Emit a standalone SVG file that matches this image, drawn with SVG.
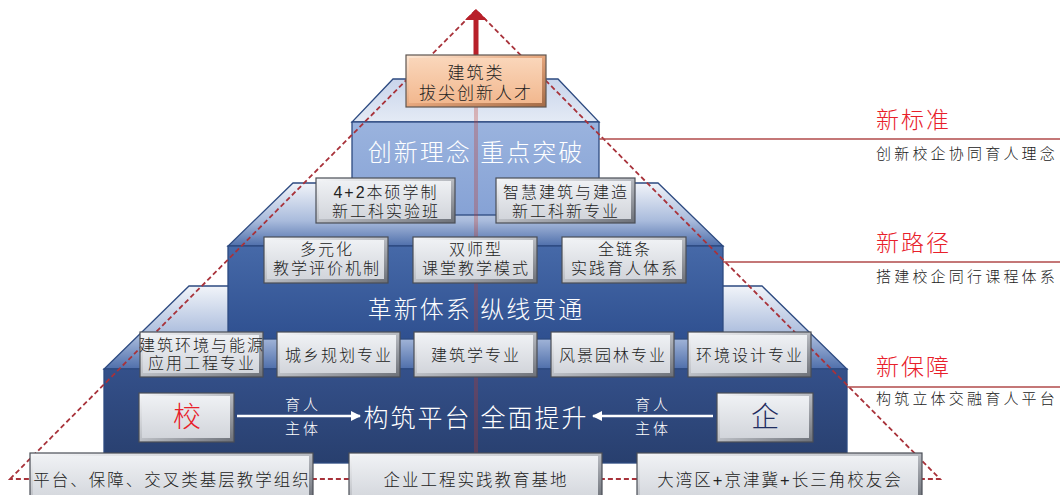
<svg xmlns="http://www.w3.org/2000/svg" width="1060" height="495" viewBox="0 0 1060 495">
<defs>
<style>
text{font-family:"Liberation Sans","Noto Sans CJK SC",sans-serif;font-weight:300}
.bt{font-size:16px;letter-spacing:2px;fill:#222;text-anchor:middle}
.bb{font-size:16.5px;letter-spacing:2px;fill:#222;text-anchor:middle}
.wt{font-size:24px;letter-spacing:2px;fill:#fff;text-anchor:middle}
.lab{font-size:15px;letter-spacing:3px;fill:#fff;text-anchor:middle}
.rt{font-size:23px;letter-spacing:2px;fill:#e8202a}
.rs{font-size:15px;letter-spacing:3.2px;fill:#222}
.edge{stroke:#2d4a80;stroke-width:1.3}
.bo{fill:url(#bevelG);stroke:#4a4e56;stroke-width:1.2}
.bf{fill:url(#faceG)}
.lead{stroke:#b04a4a;stroke-width:1.6;fill:none}
.dash{stroke:#a8323a;stroke-width:1.8;stroke-dasharray:5 3;fill:none}
.wa{stroke:#fff;stroke-width:2.5;fill:none}
</style>
<linearGradient id="bevelG" x1="0" y1="0" x2="1" y2="1">
<stop offset="0" stop-color="#f7f8fa"/><stop offset="0.5" stop-color="#b9bcc2"/><stop offset="1" stop-color="#6b6f77"/>
</linearGradient>
<linearGradient id="faceG" x1="0" y1="0" x2="0" y2="1">
<stop offset="0" stop-color="#eff1f4"/><stop offset="1" stop-color="#d2d5db"/>
</linearGradient>
<linearGradient id="bevelO" x1="0" y1="0" x2="1" y2="1">
<stop offset="0" stop-color="#fde8d6"/><stop offset="0.5" stop-color="#e6a67c"/><stop offset="1" stop-color="#a36a45"/>
</linearGradient>
<linearGradient id="faceO" x1="0" y1="0" x2="0" y2="1">
<stop offset="0" stop-color="#fad6ba"/><stop offset="1" stop-color="#f2b88f"/>
</linearGradient>
<linearGradient id="top1" x1="0" y1="0" x2="0" y2="1">
<stop offset="0" stop-color="#c9d5eb"/><stop offset="1" stop-color="#e4eaf5"/>
</linearGradient>
<linearGradient id="topG" x1="0" y1="0" x2="0" y2="1">
<stop offset="0" stop-color="#f1f4f9"/><stop offset="0.6" stop-color="#a9bbdc"/><stop offset="1" stop-color="#4f6fab"/>
</linearGradient>
<linearGradient id="front1" x1="0" y1="0" x2="0" y2="1">
<stop offset="0" stop-color="#9ab3de"/><stop offset="1" stop-color="#86a2d5"/>
</linearGradient>
<linearGradient id="front2" x1="0" y1="0" x2="0" y2="1">
<stop offset="0" stop-color="#4669a8"/><stop offset="1" stop-color="#2f5090"/>
</linearGradient>
<linearGradient id="front3" x1="0" y1="0" x2="0" y2="1">
<stop offset="0" stop-color="#34508a"/><stop offset="1" stop-color="#283f6e"/>
</linearGradient>
<marker id="wh" viewBox="0 0 10 10" refX="9" refY="5" markerWidth="4" markerHeight="4" orient="auto">
<path d="M0,0 L10,5 L0,10 z" fill="#fff"/>
</marker>
</defs>
<rect width="1060" height="495" fill="#fff"/>

<g id="pyramid">
<polygon class="edge" points="189,286 762,286 847,369 104,369" fill="url(#topG)"/>
<polygon class="edge" points="293,183 658,183 723,246 228,246" fill="url(#topG)"/>
<polygon class="edge" points="393,79 558,79 599,122 352,122" fill="url(#top1)"/>
<rect class="edge" x="352" y="122" width="247" height="93" fill="url(#front1)"/>
<rect class="edge" x="228" y="246" width="495" height="93" fill="url(#front2)"/>
<rect class="edge" x="104" y="369" width="743" height="94" fill="url(#front3)"/>
</g>

<g id="connectors">
<line x1="476" y1="107" x2="476" y2="463" stroke="#c0392b" stroke-opacity="0.3" stroke-width="4"/>
<path class="dash" d="M10,479 L476,10 L940,479 Z"/>
<line class="lead" x1="599" y1="139" x2="1060" y2="139"/>
<line class="lead" x1="723" y1="262" x2="1060" y2="262"/>
<line class="lead" x1="847" y1="387" x2="1060" y2="387"/>
<rect x="473.5" y="18" width="5" height="38" fill="#b8202a"/>
<polygon points="476,9 465,20 487,20" fill="#b8202a"/>
<line class="wa" x1="237" y1="416" x2="360" y2="416" marker-end="url(#wh)"/>
<line class="wa" x1="713" y1="416" x2="593" y2="416" marker-end="url(#wh)"/>
</g>

<g id="tier-labels">
<text class="wt" x="476" y="161">创新理念 重点突破</text>
<text class="wt" x="476" y="318">革新体系 纵线贯通</text>
<text class="wt" x="476" y="427" style="font-size:25px">构筑平台 全面提升</text>
<text class="lab" x="303" y="410">育人</text>
<text class="lab" x="303" y="434">主体</text>
<text class="lab" x="653" y="410">育人</text>
<text class="lab" x="653" y="434">主体</text>
</g>

<g id="node-top">
<rect x="406" y="55" width="140" height="52" fill="url(#bevelO)" stroke="#5e5550" stroke-width="1.2"/>
<rect x="409" y="58" width="133" height="45" fill="url(#faceO)"/>
<text class="bt" x="476" y="79" style="font-size:17px">建筑类</text>
<text class="bt" x="476" y="99" style="font-size:17px">拔尖创新人才</text>
</g>

<g id="node-42">
<rect class="bo" x="316" y="178" width="139" height="45"/><rect class="bf" x="319" y="181" width="132" height="38"/>
<text class="bt" x="386" y="198">4+2本硕学制</text><text class="bt" x="386" y="217">新工科实验班</text>
</g>
<g id="node-zhihui">
<rect class="bo" x="496" y="178" width="139" height="45"/><rect class="bf" x="499" y="181" width="132" height="38"/>
<text class="bt" x="566" y="198">智慧建筑与建造</text><text class="bt" x="566" y="217">新工科新专业</text>
</g>

<g id="node-duoyuan">
<rect class="bo" x="264" y="237" width="124" height="46"/><rect class="bf" x="267" y="240" width="117" height="39"/>
<text class="bt" x="327" y="255">多元化</text><text class="bt" x="327" y="274">教学评价机制</text>
</g>
<g id="node-shuangshi">
<rect class="bo" x="413" y="237" width="124" height="46"/><rect class="bf" x="416" y="240" width="117" height="39"/>
<text class="bt" x="476" y="255">双师型</text><text class="bt" x="476" y="274">课堂教学模式</text>
</g>
<g id="node-quanlian">
<rect class="bo" x="562" y="237" width="124" height="46"/><rect class="bf" x="565" y="240" width="117" height="39"/>
<text class="bt" x="625" y="255">全链条</text><text class="bt" x="625" y="274">实践育人体系</text>
</g>

<g id="node-jianhuan">
<rect class="bo" x="140" y="332" width="123" height="45"/><rect class="bf" x="143" y="335" width="116" height="38"/>
<text class="bt" x="202" y="351">建筑环境与能源</text><text class="bt" x="202" y="369">应用工程专业</text>
</g>
<g id="node-chengxiang">
<rect class="bo" x="277" y="332" width="123" height="45"/><rect class="bf" x="280" y="335" width="116" height="38"/>
<text class="bt" x="339" y="361">城乡规划专业</text>
</g>
<g id="node-jianzhu">
<rect class="bo" x="414" y="332" width="123" height="45"/><rect class="bf" x="417" y="335" width="116" height="38"/>
<text class="bt" x="476" y="361">建筑学专业</text>
</g>
<g id="node-fengjing">
<rect class="bo" x="551" y="332" width="123" height="45"/><rect class="bf" x="554" y="335" width="116" height="38"/>
<text class="bt" x="613" y="361">风景园林专业</text>
</g>
<g id="node-huanjing">
<rect class="bo" x="688" y="332" width="123" height="45"/><rect class="bf" x="691" y="335" width="116" height="38"/>
<text class="bt" x="750" y="361">环境设计专业</text>
</g>

<g id="node-xiao">
<rect class="bo" x="139" y="393" width="95" height="49"/><rect class="bf" x="142" y="396" width="88" height="42"/>
<text x="187" y="427" text-anchor="middle" style="font-size:28px;fill:#e8202a">校</text>
</g>
<g id="node-qi">
<rect class="bo" x="717" y="393" width="96" height="49"/><rect class="bf" x="720" y="396" width="89" height="42"/>
<text x="765" y="427" text-anchor="middle" style="font-size:28px;fill:#1f2d5f">企</text>
</g>

<g id="node-pingtai">
<rect class="bo" x="30" y="453" width="283" height="48"/><rect class="bf" x="33" y="456" width="276" height="45"/>
<text class="bb" x="172" y="486">平台、保障、交叉类基层教学组织</text>
</g>
<g id="node-qiye">
<rect class="bo" x="349" y="453" width="253" height="48"/><rect class="bf" x="352" y="456" width="246" height="45"/>
<text class="bb" x="476" y="486">企业工程实践教育基地</text>
</g>
<g id="node-xiaoyou">
<rect class="bo" x="637" y="453" width="285" height="48"/><rect class="bf" x="640" y="456" width="278" height="45"/>
<text class="bb" x="780" y="486">大湾区+京津冀+长三角校友会</text>
</g>

<g id="node-biaozhun">
<text class="rt" x="876" y="128">新标准</text>
<text class="rs" x="876" y="159">创新校企协同育人理念</text>
</g>
<g id="node-lujing">
<text class="rt" x="876" y="251">新路径</text>
<text class="rs" x="876" y="282">搭建校企同行课程体系</text>
</g>
<g id="node-baozhang">
<text class="rt" x="876" y="375">新保障</text>
<text class="rs" x="876" y="404">构筑立体交融育人平台</text>
</g>
</svg>
